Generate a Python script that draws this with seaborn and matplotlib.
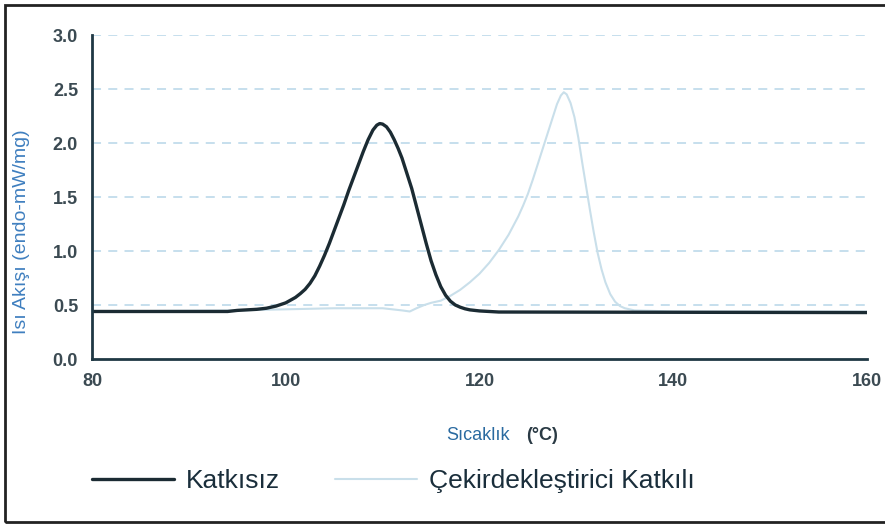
import numpy as np
import pandas as pd
import matplotlib
matplotlib.use("Agg")
import matplotlib.pyplot as plt
from matplotlib.patches import Rectangle
import seaborn as sns

# ---- data ----
temp_katkisiz = [80, 90, 94, 95, 96, 97, 98, 98.5, 99, 99.5, 100, 100.5, 101, 101.5, 102, 102.5,
                 103, 103.5, 104, 104.5, 105, 105.5, 106, 106.5, 107, 107.5, 108, 108.5, 109,
                 109.4, 109.7, 110, 110.4, 110.8, 111.2, 111.6, 112, 112.5, 113, 113.5, 114,
                 114.5, 115, 115.5, 116, 116.5, 117, 117.5, 118, 118.5, 119, 120, 121, 122, 160]
val_katkisiz = [0.44, 0.44, 0.44, 0.45, 0.455, 0.46, 0.47, 0.48, 0.49, 0.505, 0.52, 0.545, 0.57,
                0.605, 0.645, 0.70, 0.77, 0.86, 0.96, 1.07, 1.19, 1.31, 1.43, 1.56, 1.68, 1.80,
                1.92, 2.03, 2.12, 2.165, 2.18, 2.175, 2.15, 2.10, 2.03, 1.95, 1.86, 1.72, 1.58,
                1.41, 1.24, 1.07, 0.91, 0.78, 0.67, 0.59, 0.535, 0.50, 0.48, 0.465, 0.455, 0.445,
                0.44, 0.435, 0.43]

temp_cekird = [80, 95, 100, 105, 110, 111, 112, 112.8, 113.5, 114.3, 115, 116, 117, 118, 119,
               120, 121, 122, 123, 124, 124.5, 125, 125.5, 126, 126.5, 127, 127.5, 128, 128.4,
               128.7, 129, 129.4, 129.8, 130.2, 130.6, 131, 131.4, 131.8, 132.2, 132.6, 133,
               133.5, 134, 134.5, 135, 136, 140, 160]
val_cekird = [0.44, 0.45, 0.46, 0.47, 0.47, 0.46, 0.45, 0.44, 0.47, 0.50, 0.52, 0.54, 0.585,
              0.64, 0.71, 0.79, 0.89, 1.01, 1.15, 1.32, 1.42, 1.53, 1.66, 1.80, 1.94, 2.08,
              2.22, 2.36, 2.44, 2.47, 2.45, 2.37, 2.24, 2.05, 1.82, 1.60, 1.38, 1.17, 0.98,
              0.83, 0.71, 0.60, 0.53, 0.49, 0.47, 0.45, 0.44, 0.44]

series_names = ["Katkısız", "Çekirdekleştirici Katkılı"]
x_ticks = [80, 100, 120, 140, 160]
y_ticks = [0.0, 0.5, 1.0, 1.5, 2.0, 2.5, 3.0]

df = pd.concat([
    pd.DataFrame({"T": temp_katkisiz, "v": val_katkisiz, "s": series_names[0]}),
    pd.DataFrame({"T": temp_cekird, "v": val_cekird, "s": series_names[1]}),
], ignore_index=True)

sns.set_style("white")
plt.rcParams["font.family"] = ["Liberation Sans", "DejaVu Sans"]

W, H = 885, 525
fig = plt.figure(figsize=(W / 100, H / 100), dpi=100)
ax = fig.add_axes([92 / W, 1 - 359 / H, (867 - 92) / W, (359 - 35) / H])

palette = {series_names[0]: "#1b2b33", series_names[1]: "#c9dfea"}
sizes = {series_names[0]: 2.4, series_names[1]: 1.5}
# draw light one first so black is on top
sns.lineplot(data=df[df.s == series_names[1]], x="T", y="v", color=palette[series_names[1]],
             lw=sizes[series_names[1]], ax=ax, legend=False, sort=False)
sns.lineplot(data=df[df.s == series_names[0]], x="T", y="v", color=palette[series_names[0]],
             lw=sizes[series_names[0]], ax=ax, legend=False, sort=False)
for ln in ax.lines:
    ln.set_solid_joinstyle("round")

ax.set_xlim(80, 160)
ax.set_ylim(0, 3.0)
ax.set_xticks(x_ticks)
ax.set_yticks(y_ticks)
ax.set_yticklabels([f"{v:.1f}" for v in y_ticks])
ax.set_xlabel("")
ax.set_ylabel("")

for y in y_ticks[1:]:
    ax.axhline(y, color="#c2dcec", lw=1.3, ls=(0, (5, 4)), zorder=0)

for side in ["top", "right"]:
    ax.spines[side].set_visible(False)
for side in ["left", "bottom"]:
    ax.spines[side].set_color("#1f3844")
    ax.spines[side].set_linewidth(2)
ax.tick_params(axis="both", direction="out", length=4, width=2, color="#1f3844",
               labelsize=13, labelcolor="#3b4a52", pad=6)
for lab in ax.get_xticklabels() + ax.get_yticklabels():
    lab.set_fontweight("bold")

# axis titles
fig.text(22 / W, 1 - 232 / H, "Isı Akışı (endo-mW/mg)", rotation=90, ha="center", va="center",
         fontsize=14, color="#3f7fbf")
fig.text(510 / W, 1 - 436 / H, "Sıcaklık", ha="right", va="center", fontsize=13, color="#2a6aa0")
fig.text(526 / W, 1 - 436 / H, "(°C)", ha="left", va="center", fontsize=13, color="#2a3a44",
         fontweight="bold")

# legend
handles = [ax.lines[1], ax.lines[0]]
leg = fig.legend(handles, series_names, loc="center left",
                 bbox_to_anchor=(92 / W, 1 - 481 / H), ncol=2, frameon=False,
                 fontsize=19, handlelength=3.1, handletextpad=0.45, columnspacing=2.1,
                 borderaxespad=0, borderpad=0)
for t in leg.get_texts():
    t.set_color("#1a2e3b")

# outer frame
fig.add_artist(Rectangle((5 / W, 3 / H), 1.0, 1 - 8 / H, transform=fig.transFigure,
                         fill=False, edgecolor="#222222", lw=2, clip_on=False))

fig.savefig("out.png", dpi=100)
